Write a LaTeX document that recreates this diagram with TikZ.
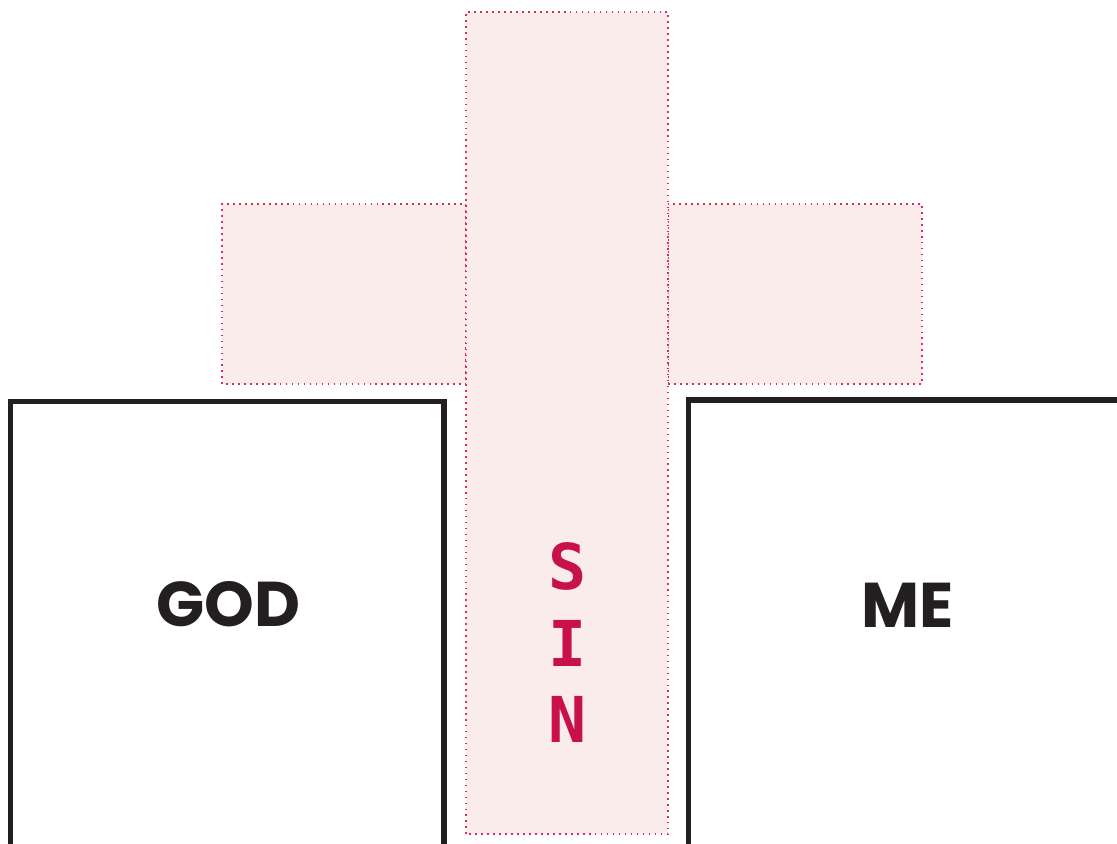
\documentclass[tikz,border=0pt]{standalone}
\usepackage{fontspec}
\usepackage{tikz}
\usetikzlibrary{positioning}
\newfontfamily\kartonFont{Poppins}
\newfontfamily\harfFont{DejaVu Sans Mono}
\definecolor{crossFill}{HTML}{FBECEC}
\definecolor{crossLine}{HTML}{DC2A5C}
\definecolor{sinRed}{HTML}{C8104A}
\definecolor{boxBlack}{HTML}{231F20}

\begin{document}
\begin{tikzpicture}[x=0.02cm,y=0.02cm,
  crossPart/.style={fill=crossFill,draw=crossLine,line width=0.9pt,dash pattern=on 0.9pt off 2.5pt},
  sideBox/.style={draw=boxBlack,line width=3pt},
  bigWord/.style={text=boxBlack,font=\kartonFont\bfseries\fontsize{36}{40}\selectfont},
  sinLetter/.style={text=sinRed,font=\harfFont\bfseries\fontsize{36}{40}\selectfont}]
\useasboundingbox (0,0) rectangle (1117,843);
\clip (0,0) rectangle (1117,843);
% cross
\filldraw[crossPart] (222,459) rectangle (466,639);
\filldraw[crossPart] (668,459) rectangle (922,639);
\filldraw[crossPart] (466,9) rectangle (668,831);
% the two boxes, open at the bottom
\draw[sideBox] (10.5,-20) rectangle (444,441.5);
\draw[sideBox] (688.5,-20) rectangle (1130,443);
\node[bigWord] (god) at (228.5,239) {GOD};
\node[bigWord] (me) at (908,238) {ME};
\node[sinLetter] (sinS) at (568,277) {S};
\node[sinLetter] (sinI) at (568,200) {I};
\node[sinLetter] (sinN) at (568,124) {N};
\end{tikzpicture}
\end{document}
